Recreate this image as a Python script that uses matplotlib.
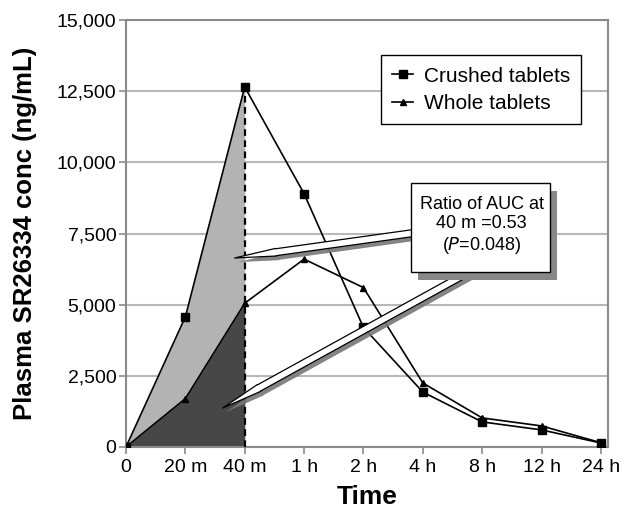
import matplotlib.pyplot as plt
import matplotlib.patheffects as pe
import numpy as np
from matplotlib.patches import FancyArrowPatch, Rectangle
from matplotlib.ticker import FuncFormatter

TIMES = ["0", "20 m", "40 m", "1 h", "2 h", "4 h", "8 h", "12 h", "24 h"]
CRUSHED = [0, 4570, 12650, 8900, 4200, 1930, 880, 600, 140]
WHOLE = [0, 1700, 5050, 6600, 5600, 2250, 1020, 740, 150]
LIGHT = "#b3b3b3"
DARKFILL = "#474747"
GRID = "#b8b8b8"
SPINE = "#8a8a8a"

plt.rcParams["font.family"] = ["Liberation Sans", "DejaVu Sans"]

fig = plt.figure(figsize=(6.29, 5.14), dpi=100)
ax = fig.add_axes([0.2003, 0.1304, 0.7663, 0.8306])

x = np.arange(len(TIMES))
crushed = np.array(CRUSHED)
whole = np.array(WHOLE)

# shaded AUC up to 40 m
ax.fill_between(x[:3], 0, crushed[:3], color=LIGHT, zorder=1, linewidth=0)
ax.fill_between(x[:3], 0, whole[:3], color=DARKFILL, zorder=1.5, linewidth=0)
ax.plot([x[2], x[2]], [0, crushed[2]], color="black", linestyle=(0, (3, 2)), linewidth=1.6, zorder=3)

ax.plot(x, crushed, color="black", linewidth=1.2, marker="s", markersize=5.5, label="Crushed tablets", zorder=4)
ax.plot(x, whole, color="black", linewidth=1.2, marker="^", markersize=4.5, label="Whole tablets", zorder=4)

ax.set_xlim(0, 8.12)
ax.set_ylim(0, 15000)
ax.set_yticks(np.arange(0, 15001, 2500))
ax.yaxis.set_major_formatter(FuncFormatter(lambda v, _: f"{int(v):,}"))
ax.set_xticks(x, TIMES)
ax.tick_params(labelsize=14, length=5, color=SPINE, width=1.2, pad=2)
ax.tick_params(axis="x", pad=4)
ax.yaxis.grid(True, color=GRID, linewidth=1.5)
ax.set_axisbelow(True)
for s in ax.spines.values():
    s.set_color(SPINE)
    s.set_linewidth(1.5)

ax.set_xlabel("Time", fontsize=19, fontweight="bold")
ax.set_ylabel("Plasma SR26334 conc (ng/mL)", fontsize=18.5, fontweight="bold", va="center")
ax.xaxis.set_label_coords(0.5, -0.088)
ax.yaxis.set_label_coords(-0.2095, 0.5)

leg = ax.legend(loc="upper left", bbox_to_anchor=(0.529, 0.918), fontsize=15, fancybox=False,
                framealpha=1, edgecolor="black", handlelength=1.0, handletextpad=0.5,
                borderpad=0.55, labelspacing=0.4, borderaxespad=0)
leg.get_frame().set_linewidth(1.0)

# arrows from annotation box (start hidden under the box)
shadow = [pe.SimplePatchShadow(offset=(2, -3), shadow_rgbFace="#777777", alpha=0.9), pe.Normal()]
for start, tip in (((5.3, 7650), (1.83, 6640)), ((6.0, 6400), (1.63, 1370))):
    arr = FancyArrowPatch(start, tip, arrowstyle="simple,head_width=0.55,head_length=3,tail_width=0.5",
                          mutation_scale=10, facecolor="white", edgecolor="black", linewidth=0.9,
                          zorder=5, shrinkA=0, shrinkB=0)
    arr.set_path_effects(shadow)
    ax.add_patch(arr)

box = Rectangle((0.5913, 0.410), 0.2884, 0.2083, transform=ax.transAxes, facecolor="white",
                edgecolor="black", linewidth=1.0, zorder=6)
box.set_path_effects([pe.SimplePatchShadow(offset=(5, -6), shadow_rgbFace="#888888", alpha=1), pe.Normal()])
ax.add_patch(box)
ax.text(0.7376, 0.5176, "Ratio of AUC at\n40 m =0.53\n($\\it{P}$=0.048)", transform=ax.transAxes,
        fontsize=13, ha="center", va="center", linespacing=1.15, zorder=7)

fig.savefig("out.png", dpi=100, facecolor="white")
